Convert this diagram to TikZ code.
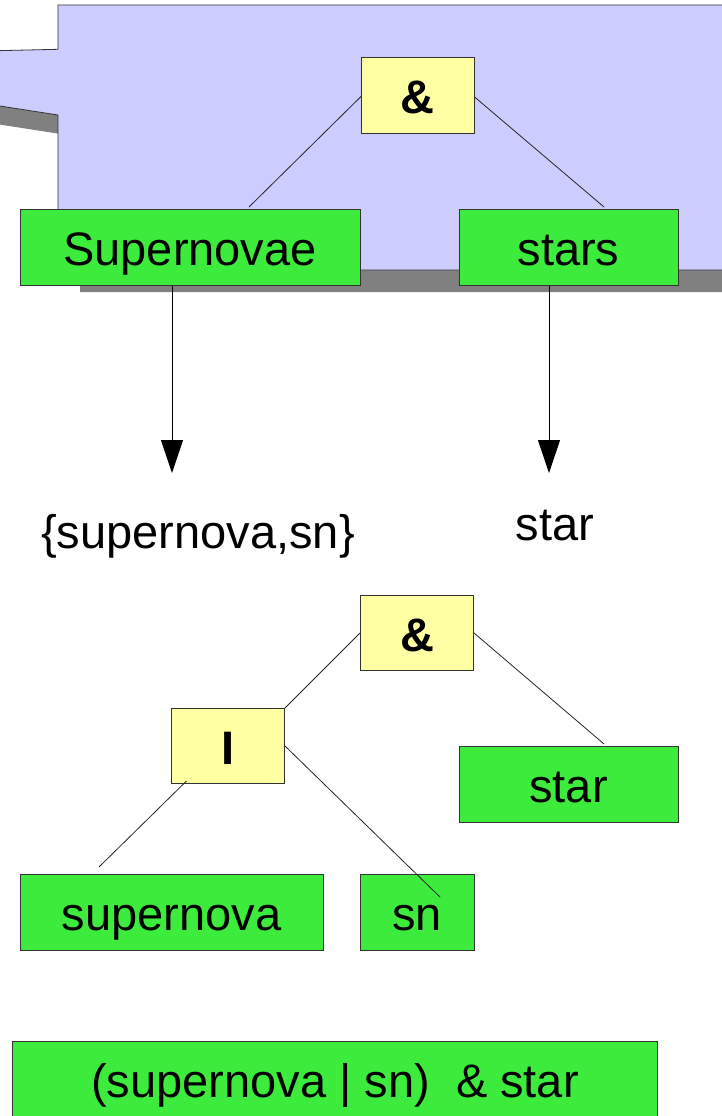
\documentclass[tikz,border=0pt]{standalone}
\usepackage{fontspec}
\setmainfont{Liberation Sans}
\usetikzlibrary{arrows.meta}
\definecolor{calloutblue}{HTML}{CCCCFF}
\definecolor{shadowgray}{HTML}{808080}
\definecolor{leafgreen}{HTML}{3DEB3D}
\definecolor{opyellow}{HTML}{FFFFA3}
\definecolor{edgegray}{HTML}{333333}
\tikzset{
  basebox/.style={draw=edgegray, line width=1pt, inner sep=0pt,
    text height=36pt, text depth=0pt,
    font=\fontsize{47}{56}\selectfont},
  leaf/.style={basebox, fill=leafgreen, minimum height=76pt},
  opbox/.style={basebox, fill=opyellow, minimum width=113pt, minimum height=75pt,
    font=\fontsize{47}{56}\selectfont\bfseries},
  branch/.style={draw=black!85, line width=0.8pt},
  mapto/.style={draw=black, line width=1pt, -{Triangle[length=33pt,width=22pt]}},
  plain/.style={inner sep=0pt, anchor=base, font=\fontsize{47}{56}\selectfont}
}
\begin{document}
\begin{tikzpicture}[x=1pt,y=-1pt]
\useasboundingbox (0,0) rectangle (722,1116);
\begin{scope}
  \clip (0,0) rectangle (722,1116);
  % callout with drop shadow
  \fill[shadowgray, shift={(22,22)}]
    (58,5) -- (790,5) -- (790,270) -- (58,270) -- (58,115)
    -- (-60,96.7) -- (-60,52) -- (58,49.3) -- cycle;
  \filldraw[fill=calloutblue, draw=edgegray, line width=0.8pt]
    (58,5) -- (790,5) -- (790,270) -- (58,270) -- (58,115)
    -- (-60,96.7) -- (-60,52) -- (58,49.3) -- cycle;
\end{scope}

% free ends of the branch lines
\coordinate (e1) at (249,207);
\coordinate (e2) at (604,207);
\coordinate (e3) at (604,744);
\coordinate (e4) at (186.5,781);
\coordinate (e5) at (99,867);
\coordinate (e6) at (440,897);
\coordinate (t1) at (172,473);
\coordinate (t2) at (549,473);

% first query tree
\draw[branch] (361,96.5) coordinate (a1w) -- (e1);
\draw[branch] (474,96.5) coordinate (a1e) -- (e2);
\node[opbox] (and1) at (417.5,95.5) {\&};
\node[leaf, minimum width=340pt] (sup) at (190,247) {Supernovae};
\node[leaf, minimum width=219pt] (stars) at (568.5,247) {stars};

% normalisation arrows and results
\draw[mapto] (sup.south -| t1) -- (t1);
\draw[mapto] (stars.south -| t2) -- (t2);
\node[plain] (syn) at (198,548) {\{supernova,sn\}};
\node[plain] (stem) at (555,540) {star};

% rewritten query tree
\node[opbox] (and2) at (417,633) {\&};
\node[opbox] (or) at (228,746) {I};
\node[leaf, minimum width=219pt] (star) at (568.5,784) {star};
\node[leaf, minimum width=303pt] (snova) at (171.5,912.5) {supernova};
\node[leaf, minimum width=114pt] (sn) at (417,912.5) {sn};
\draw[branch] (and2.west) -- (or.north east);
\draw[branch] (and2.east) -- (e3);
\draw[branch] (e4) -- (e5);
\draw[branch] (or.east) -- (e6);

% final query string
\begin{scope}
  \clip (0,0) rectangle (722,1116);
  \node[leaf, minimum width=645pt] (final) at (335,1079.5) {(supernova | sn)\ \ \& star};
\end{scope}
\end{tikzpicture}
\end{document}
